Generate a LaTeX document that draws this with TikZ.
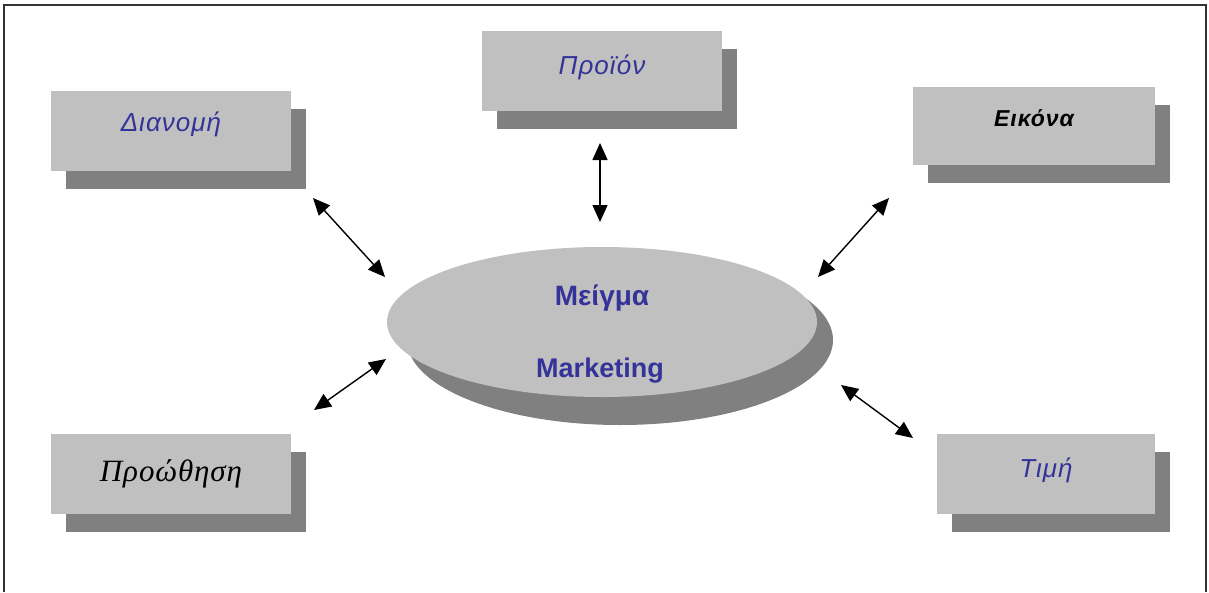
\documentclass[tikz,border=0pt]{standalone}
\usepackage{fontspec}
\setmainfont{Liberation Sans}
\newfontfamily\widesans[LetterSpace=4]{Liberation Sans}
\newfontfamily\grserif[LetterSpace=3]{Liberation Serif}
\usetikzlibrary{
    arrows.meta,
    shapes.geometric,
    shadows,
    positioning
}

\definecolor{boxgray}{RGB}{192,192,192}
\definecolor{shadegray}{RGB}{128,128,128}
\definecolor{labelblue}{RGB}{51,51,153}
\definecolor{framegray}{RGB}{51,51,51}

\tikzset{
    part/.style={rectangle, fill=boxgray, minimum width=240pt, minimum height=80pt, inner sep=0pt,
        drop shadow={shadow xshift=15pt, shadow yshift=-18pt, fill=shadegray, opacity=1},
        font=\widesans\itshape\fontsize{26}{26}\selectfont, text=labelblue},
    link/.style={{Triangle[length=17pt,width=15pt]}-{Triangle[length=17pt,width=15pt]}, line width=1.4pt},
    mixtext/.style={font=\bfseries\fontsize{28}{28}\selectfont, text=labelblue, inner sep=0pt}
}

\begin{document}
\begin{tikzpicture}[x=1pt, y=-1pt]
    \useasboundingbox (0,0) rectangle (1209,592);
    \draw[framegray, line width=2pt] (4,592) -- (4,5) -- (1206,5) -- (1206,592);

    \node[part] (distr) at (171,131) {\raisebox{19pt}{Διανομή}};
    \node[part] (prod) at (602,71) {\raisebox{12pt}{Προϊόν}};
    \node[part, minimum width=242pt, minimum height=78pt, text=black,
        font=\widesans\bfseries\itshape\fontsize{23}{23}\selectfont] (image) at (1034,126) {\raisebox{16pt}{Εικόνα}};
    \node[part, text=black, font=\grserif\itshape\fontsize{31}{31}\selectfont] (promo) at (171,474) {Προώθηση};
    \node[part, minimum width=218pt] (price) at (1046,474) {\raisebox{13pt}{Τιμή}};

    % centre
    \fill[shadegray] (620,340) ellipse [x radius=213pt, y radius=85pt];
    \node[ellipse, fill=boxgray, minimum width=430pt, minimum height=150pt, inner sep=0pt] (mix) at (602,322) {};
    \node[mixtext] (mixtop) at (602,298) {Μείγμα};
    \node[mixtext, font=\bfseries\fontsize{27}{27}\selectfont] (mixbot) at (600,371) {Marketing};

    \coordinate (distr-end) at (313,198);
    \coordinate (mix-nw) at (385,277);
    \coordinate (prod-end) at (600,143);
    \coordinate (mix-n) at (600,222);
    \coordinate (image-end) at (889,198);
    \coordinate (mix-ne) at (818,277);
    \coordinate (promo-end) at (314,410);
    \coordinate (mix-sw) at (386,359);
    \coordinate (price-end) at (913,438);
    \coordinate (mix-se) at (841,385);

    \draw[link] (distr-end) -- (mix-nw);
    \draw[link] (prod-end) -- (mix-n);
    \draw[link] (image-end) -- (mix-ne);
    \draw[link] (promo-end) -- (mix-sw);
    \draw[link] (price-end) -- (mix-se);
\end{tikzpicture}
\end{document}
